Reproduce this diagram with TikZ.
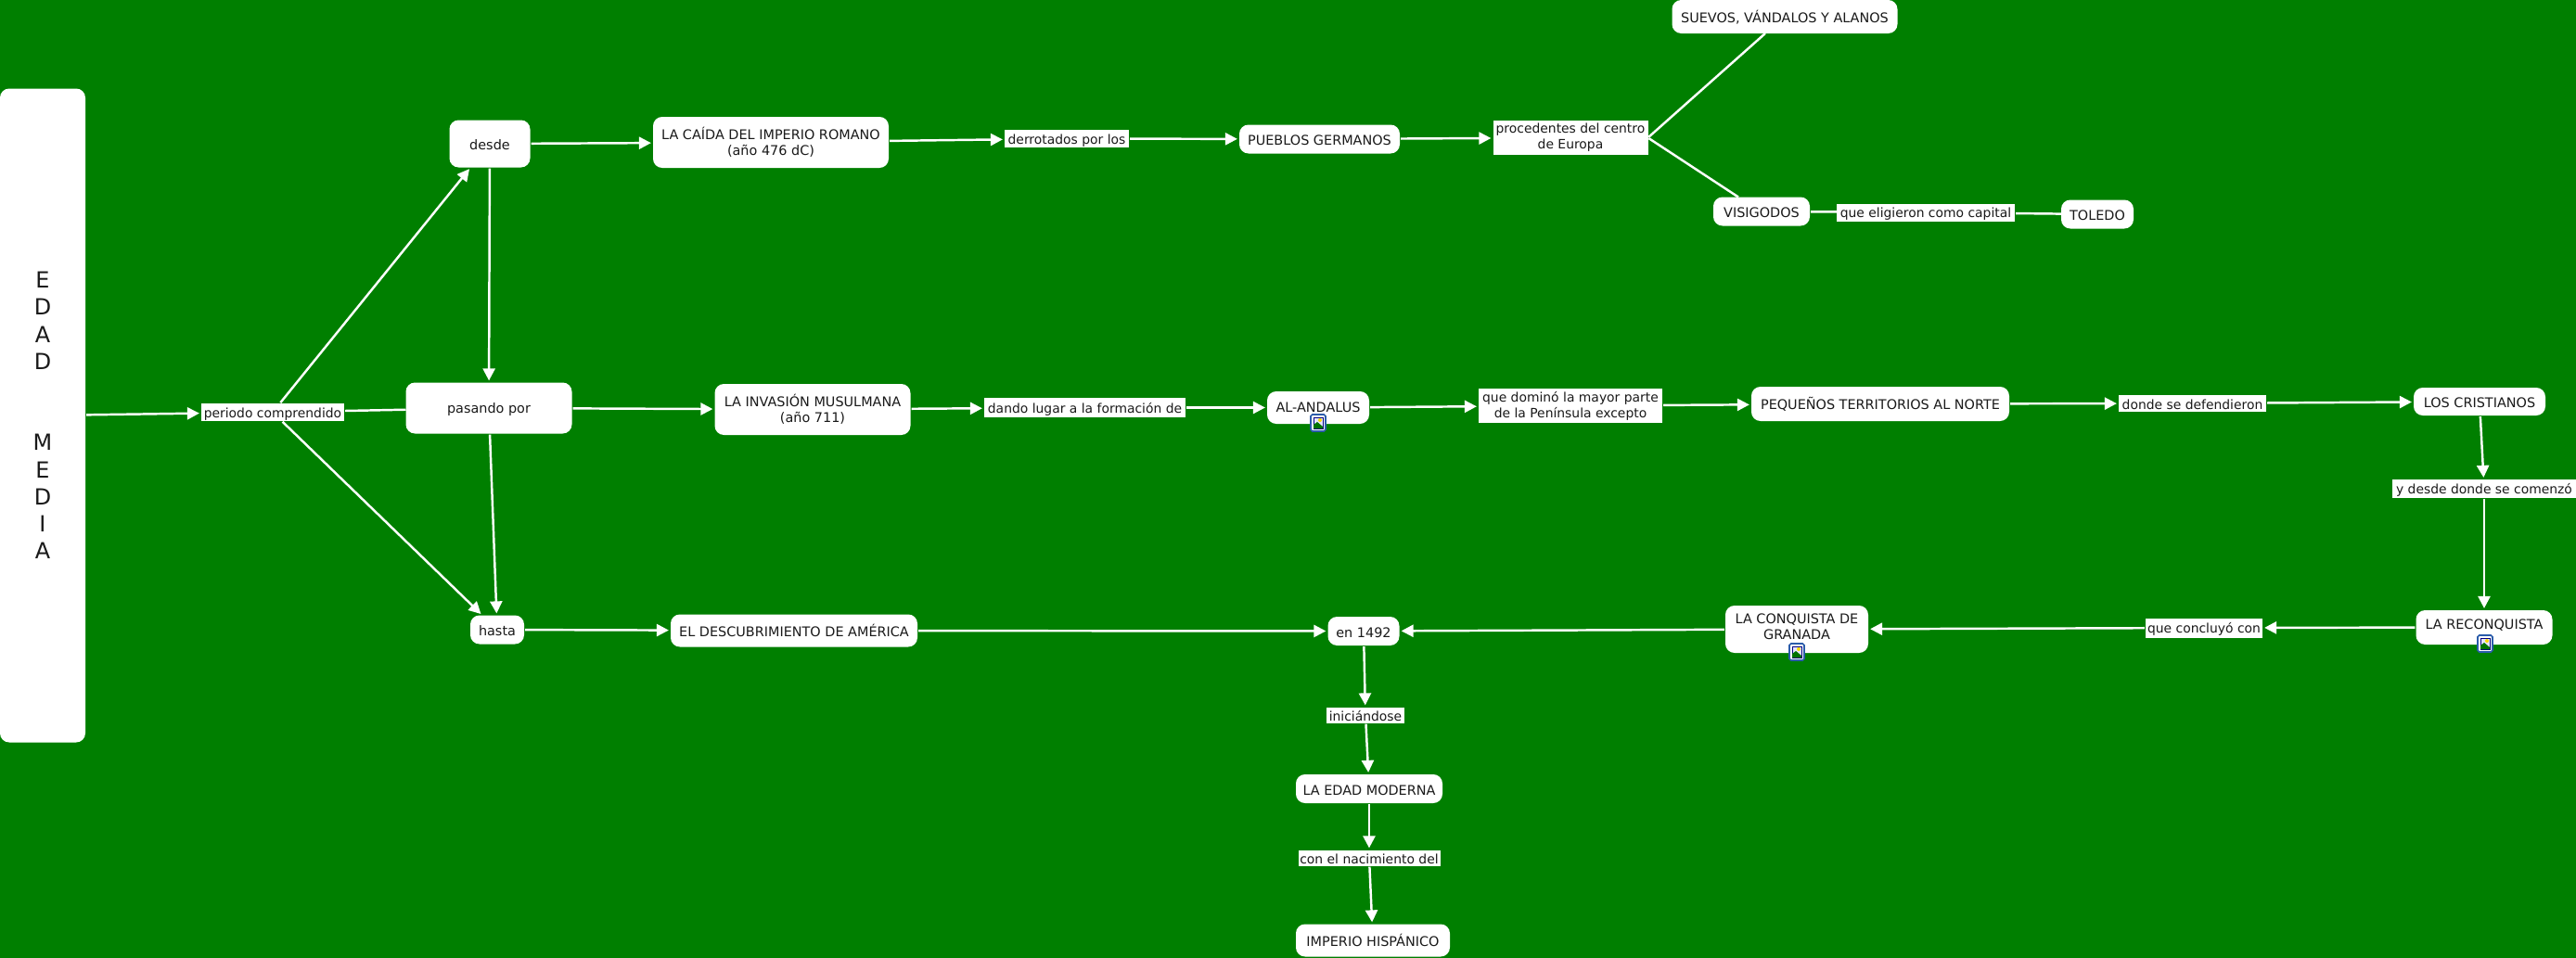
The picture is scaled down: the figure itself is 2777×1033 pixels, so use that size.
\documentclass[tikz,border=0pt]{standalone}
\usepackage{fontspec}
\setmainfont{DejaVu Sans}
\usetikzlibrary{arrows.meta}
\definecolor{mapgreen}{HTML}{007F00}
\definecolor{inktext}{HTML}{1A1A1A}
\definecolor{iconblue}{HTML}{2A5CAA}
\tikzset{
    box/.style 2 args={minimum width=#1*0.01cm, minimum height=#2*0.01cm},
    textdrop/.style={execute at begin node={\rule{0pt}{#1}}},
    concept/.style={fill=white, text=inktext, rounded corners=2.8pt, inner sep=0pt, outer sep=0pt, align=center, textdrop=4pt},
    linker/.style={fill=white, text=inktext, inner sep=0pt, outer sep=0pt, align=center, textdrop=4pt, font=\fontsize{3.95}{4.85}\selectfont},
    link/.style={draw=white, line width=0.7pt, shorten <=0.3pt},
    arrowlink/.style={link, shorten >=0.6pt, -{Triangle[length=3.7pt,width=3.7pt]}},
    imgicon/.pic={
        \fill[white, draw=iconblue, line width=0.45pt, rounded corners=0.5pt] (-8,-9) rectangle (8,9);
        \fill[blue!10!white, draw=black!50!blue, line width=0.2pt] (-5,-6) rectangle (5,6);
        \fill[green!45!black] (-5,6) -- (-5,2) -- (-1,-1) -- (5,4) -- (5,6) -- cycle;
        \fill[yellow!80!orange] (2,-3) circle (2);
    }
}
\begin{document}
\begin{tikzpicture}[x=0.01cm, y=-0.01cm, font=\fontsize{4.1}{4.85}\selectfont]
    \useasboundingbox (0,0) rectangle (2777,1033);
    \fill[mapgreen] (0,0) rectangle (2777,1033);
    \node[concept, box={92}{705}, textdrop=6.2pt, font=\fontsize{6.8}{8.3}\selectfont] (edad) at (46,448) {E\\D\\A\\D\\ \\ \\M\\E\\D\\I\\A};
    \node[linker, box={154}{19}] (periodo) at (294,444.5) {periodo comprendido};
    \node[concept, box={87}{51}] (desde) at (528,155) {desde};
    \node[concept, box={179}{55}] (pasando) at (527,440) {pasando por};
    \node[concept, box={58}{31}] (hasta) at (536,679) {hasta};
    % fila superior
    \node[concept, box={254}{55}] (caida) at (831,153.5) {LA CAÍDA DEL IMPERIO ROMANO\\(año 476 dC)};
    \node[linker, box={134}{19}] (derrotados) at (1150,149.5) {derrotados por los};
    \node[concept, box={173}{31}] (germanos) at (1422.5,150) {PUEBLOS GERMANOS};
    \node[linker, box={167}{37}] (procedentes) at (1693,148.5) {procedentes del centro\\de Europa};
    \node[concept, box={243}{36}] (suevos) at (1924,18) {SUEVOS, VÁNDALOS Y ALANOS};
    \node[concept, box={104}{31}] (visigodos) at (1899,228) {VISIGODOS};
    \node[linker, box={192}{19}] (capital) at (2076,229) {que eligieron como capital};
    \node[concept, box={78}{31}] (toledo) at (2261,231) {TOLEDO};
    % fila central
    \node[concept, box={211}{55}] (invasion) at (876,441.5) {LA INVASIÓN MUSULMANA\\(año 711)};
    \node[linker, box={217}{21}] (formacion) at (1169.5,439.5) {dando lugar a la formación de};
    \node[concept, box={110}{35}, text depth=1pt] (andalus) at (1421,439.5) {AL-ANDALUS};
    \node[linker, box={198}{37}] (domino) at (1693,437.5) {que dominó la mayor parte\\de la Península excepto};
    \node[concept, box={278}{37}] (pequenos) at (2027,435.5) {PEQUEÑOS TERRITORIOS AL NORTE};
    \node[linker, box={159}{18}] (defendieron) at (2363.5,435) {donde se defendieron};
    \node[concept, box={142}{30}] (cristianos) at (2673,433) {LOS CRISTIANOS};
    \node[linker, box={198}{20}] (comenzo) at (2678,527) {y desde donde se comenzó};
    \node[concept, box={147}{37}, text depth=3pt] (reconquista) at (2678,676.5) {LA RECONQUISTA};
    % fila inferior
    \node[linker, box={126}{21}] (concluyo) at (2376,677) {que concluyó con};
    \node[concept, box={154}{51}, text depth=1.8pt] (granada) at (1937,678.5) {LA CONQUISTA DE\\GRANADA};
    \node[concept, box={77}{31}] (en1492) at (1470,680.5) {en 1492};
    \node[concept, box={266}{35}] (america) at (856,680) {EL DESCUBRIMIENTO DE AMÉRICA};
    \node[linker, box={84}{17}] (iniciandose) at (1472,771) {iniciándose};
    \node[concept, box={158}{31}] (moderna) at (1476,850.5) {LA EDAD MODERNA};
    \node[linker, box={153}{17}] (nacimiento) at (1476,925) {con el nacimiento del};
    \node[concept, box={166}{35}] (imperio) at (1480,1014) {IMPERIO HISPÁNICO};
    % iconos
    \pic at (1421,456) {imgicon};
    \pic at (2679,694) {imgicon};
    \pic at (1937,703) {imgicon};
    % enlaces
    \draw[arrowlink] (edad) -- (periodo);
    \draw[arrowlink] (periodo) -- (desde);
    \draw[link] (periodo) -- (pasando);
    \draw[arrowlink] (periodo) -- (hasta);
    \draw[arrowlink] (desde) -- (pasando);
    \draw[arrowlink] (pasando) -- (hasta);
    \draw[arrowlink] (desde) -- (caida);
    \draw[arrowlink] (caida) -- (derrotados);
    \draw[arrowlink] (derrotados) -- (germanos);
    \draw[arrowlink] (germanos) -- (procedentes);
    \draw[link] (procedentes.east) -- ([xshift=-0.21cm]suevos.south);
    \draw[link] (procedentes.east) -- ([xshift=-0.25cm]visigodos.north);
    \draw[link] (visigodos) -- (capital);
    \draw[link] (capital) -- (toledo);
    \draw[arrowlink] (pasando) -- (invasion);
    \draw[arrowlink] (invasion) -- (formacion);
    \draw[arrowlink] (formacion) -- (andalus);
    \draw[arrowlink] (andalus) -- (domino);
    \draw[arrowlink] (domino) -- (pequenos);
    \draw[arrowlink] (pequenos) -- (defendieron);
    \draw[arrowlink] (defendieron) -- (cristianos);
    \draw[arrowlink] (cristianos) -- (comenzo);
    \draw[arrowlink] (comenzo) -- (reconquista);
    \draw[arrowlink] (reconquista) -- (concluyo);
    \draw[arrowlink] (concluyo) -- (granada);
    \draw[arrowlink] (granada) -- (en1492);
    \draw[arrowlink] (hasta) -- (america);
    \draw[arrowlink] (america) -- (en1492);
    \draw[arrowlink] (en1492) -- (iniciandose);
    \draw[arrowlink] (iniciandose) -- (moderna);
    \draw[arrowlink] (moderna) -- (nacimiento);
    \draw[arrowlink] (nacimiento) -- (imperio);
\end{tikzpicture}
\end{document}
